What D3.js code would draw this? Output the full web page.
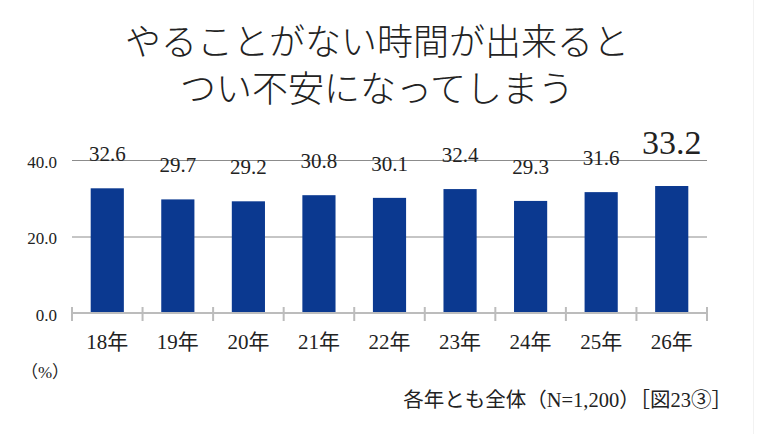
<!DOCTYPE html>
<html>
<head>
<meta charset="utf-8">
<style>
body{ margin:0; background:#fff; }
#chart{ display:block; }
text{ font-family: "Liberation Serif", "Noto Sans CJK JP", serif; fill:#222; }
.title{ font-family: "Noto Sans CJK JP", sans-serif; font-weight:300; }
.grid line{ stroke:#8c8c8c; stroke-width:1; }
</style>
</head>
<body>
<svg id="chart"></svg>
<script src="https://d3js.org/d3.v7.min.js"></script>
<script>
var years = ["18年","19年","20年","21年","22年","23年","24年","25年","26年"];
var values = [32.6, 29.7, 29.2, 30.8, 30.1, 32.4, 29.3, 31.6, 33.2];
var yTicks = [0, 20, 40];
var titleLines = ["やることがない時間が出来ると", "つい不安になってしまう"];

var W = 758, H = 434;
var plotLeft = 72, plotRight = 707, plotTop = 160, plotBottom = 313;

var svg = d3.select("#chart").attr("width", W).attr("height", H);

var x = d3.scaleBand().domain(years).range([plotLeft, plotRight]).paddingInner(0.53).paddingOuter(0.265);
var y = d3.scaleLinear().domain([0, 40]).range([plotBottom, plotTop]);

// faint frame edge on the right
svg.append("line")
    .attr("x1", 753.5).attr("x2", 753.5).attr("y1", 0).attr("y2", H)
    .attr("stroke", "#f2f2f2");

// title
svg.selectAll("text.title").data(titleLines).enter().append("text")
    .attr("class", "title")
    .attr("x", 377)
    .attr("y", function(d, i){ return 55 + i * 47; })
    .attr("text-anchor", "middle")
    .style("font-size", "36px")
    .text(function(d){ return d; });

// grid lines
svg.append("g").attr("class", "grid")
    .selectAll("line").data(yTicks.filter(function(d){ return d > 0; })).enter().append("line")
    .attr("x1", plotLeft).attr("x2", plotRight)
    .attr("y1", function(d){ return y(d) + 0.5; })
    .attr("y2", function(d){ return y(d) + 0.5; })
    .attr("stroke", function(d){ return d == 40 ? "#808080" : "#9a9a9a"; });

// y tick labels
svg.selectAll("text.ytick").data(yTicks).enter().append("text")
    .attr("class", "ytick")
    .attr("x", 57)
    .attr("y", function(d){ return y(d) + 7.5; })
    .attr("text-anchor", "end")
    .style("font-size", "17px")
    .text(function(d){ return d3.format(".1f")(d); });

// bars
svg.selectAll("rect.bar").data(values).enter().append("rect")
    .attr("class", "bar")
    .attr("x", function(d, i){ return x(years[i]); })
    .attr("width", x.bandwidth())
    .attr("y", function(d){ return y(d); })
    .attr("height", function(d){ return y(0) - y(d); })
    .attr("fill", "#0b3990");

// value labels
svg.selectAll("text.val").data(values).enter().append("text")
    .attr("class", "val")
    .attr("x", function(d, i){ return x(years[i]) + x.bandwidth() / 2; })
    .attr("y", function(d, i){ return y(d) - (i == values.length - 1 ? 32 : 27); })
    .attr("text-anchor", "middle")
    .style("font-size", function(d, i){ return i == values.length - 1 ? "34px" : "21px"; })
    .text(function(d){ return d3.format(".1f")(d); });

// x axis
var xAxis = svg.append("g");
xAxis.append("line")
    .attr("x1", plotLeft).attr("x2", plotRight)
    .attr("y1", plotBottom).attr("y2", plotBottom)
    .attr("stroke", "#bcbcbc").attr("stroke-width", 2);
var edges = years.map(function(d){ return x(d) - x.step() * x.paddingInner() / 2; });
edges.push(plotRight);
xAxis.selectAll("line.tick").data(edges).enter().append("line")
    .attr("class", "tick")
    .attr("x1", function(d){ return d; }).attr("x2", function(d){ return d; })
    .attr("y1", plotBottom - 6).attr("y2", plotBottom + 8)
    .attr("stroke", "#bcbcbc").attr("stroke-width", 2);

svg.selectAll("text.xl").data(years).enter().append("text")
    .attr("class", "xl")
    .attr("x", function(d){ return x(d) + x.bandwidth() / 2; })
    .attr("y", 349)
    .attr("text-anchor", "middle")
    .style("font-size", "21px")
    .text(function(d){ return d; });

svg.append("text")
    .attr("x", 45).attr("y", 378)
    .attr("text-anchor", "middle")
    .style("font-size", "17px")
    .text("（%）");

svg.append("text")
    .attr("x", 732).attr("y", 407)
    .attr("text-anchor", "end")
    .style("font-size", "20.5px")
    .text("各年とも全体（N=1,200）［図23③］");
</script>
</body>
</html>
